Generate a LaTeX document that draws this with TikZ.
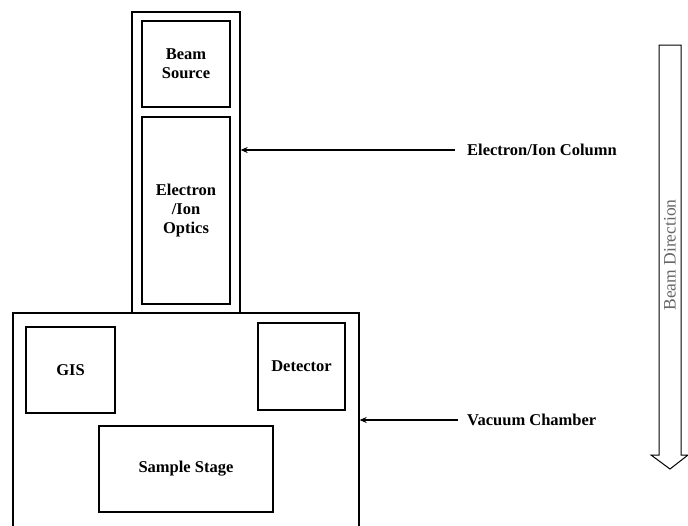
\documentclass[tikz,border=0pt]{standalone}
\usepackage{fontspec}
\setmainfont{Liberation Serif}
\usetikzlibrary{arrows.meta}
\begin{document}
\begin{tikzpicture}[x=1pt,y=-1pt,
  outer/.style={draw, line width=1.3pt, inner sep=0pt},
  inner/.style={draw, line width=2.2pt, inner sep=0pt, font=\bfseries\fontsize{16.5}{19}\selectfont, align=center},
  lbl/.style={font=\bfseries\fontsize{16.5}{19}\selectfont, anchor=west, inner sep=0pt},
  pointer/.style={line width=1.3pt, -{Stealth[length=7pt,width=6pt]}}]
\useasboundingbox (0,0) rectangle (688,525);
\node[outer, minimum width=108pt, minimum height=301pt] (col) at (186,162.5) {};
\node[outer, minimum width=346pt, minimum height=222pt] (ch) at (186,424) {};
\node[inner, minimum width=88pt, minimum height=86pt] (src) at (186,64) {Beam\\Source};
\node[inner, minimum width=88pt, minimum height=187pt] (opt) at (186,210.5) {Electron\\/Ion\\Optics};
\node[inner, minimum width=89pt, minimum height=86pt] (gis) at (70.5,370) {GIS};
\node[inner, minimum width=87pt, minimum height=87pt] (det) at (301.5,366.5) {Detector};
\node[inner, minimum width=174pt, minimum height=86pt] (stage) at (186,469) {Sample Stage};
\node[lbl] (lcol) at (467,150) {Electron/Ion Column};
\node[lbl] (lch) at (467,420) {Vacuum Chamber};
\coordinate (acol) at (455,150);
\coordinate (ach) at (458,420);
\draw[pointer] (acol) -- (acol -| col.east);
\draw[pointer] (ach) -- (ach -| ch.east);
\draw[line width=1pt, fill=white] (659,45) -- (681,45) -- (681,455) -- (688,455) -- (670,469) -- (651,455) -- (659,455) -- cycle;
\node[rotate=90, text=black!60, font=\fontsize{17.5}{20}\selectfont] (bd) at (670,255) {Beam Direction};
\end{tikzpicture}
\end{document}
